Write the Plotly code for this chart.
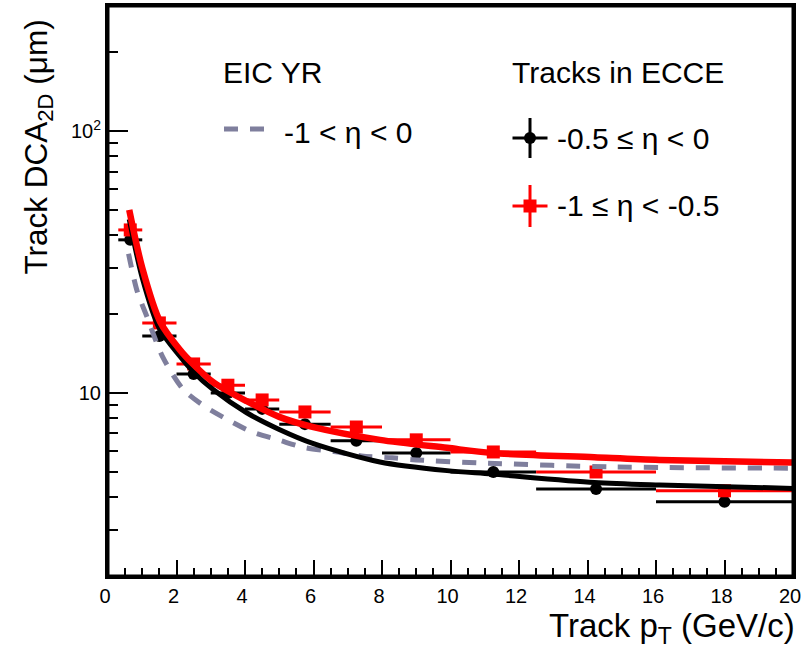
import plotly.graph_objects as go

# ---------------- data ----------------
# ECCE track bins (pT, GeV/c)
bin_lo = [0.3, 1.0, 2.0, 3.0, 4.0, 5.0, 6.5, 8.0, 10.0, 12.5, 16.0]
bin_hi = [1.0, 2.0, 3.0, 4.0, 5.0, 6.5, 8.0, 10.0, 12.5, 16.0, 20.0]
# -0.5 <= eta < 0 (black)
dca_black = [38.4, 16.5, 11.8, 10.0, 8.69, 7.6, 6.56, 5.9, 4.99, 4.30, 3.84]
# -1 <= eta < -0.5 (red)
dca_red = [41.9, 18.5, 12.9, 10.7, 9.4, 8.46, 7.41, 6.62, 5.95, 4.99, 4.23]

# fit curves
fit_black_pt = [0.62, 1.0, 1.5, 2.1, 2.5, 3.07, 4.05, 5.0, 6.0, 7.94, 9.9, 11.2, 14.2, 16.1, 20.0]
fit_black_y = [46.0, 27.5, 17.6, 13.8, 12.0, 10.3, 8.4, 7.25, 6.4, 5.45, 5.05, 4.9, 4.55, 4.45, 4.32]
fit_red_pt = [0.62, 1.0, 1.52, 2.1, 2.48, 3.07, 4.05, 5.0, 6.0, 7.94, 9.9, 11.2, 14.2, 16.1, 20.0]
fit_red_y = [50.0, 30.0, 18.7, 14.6, 12.9, 11.0, 9.3, 8.1, 7.4, 6.62, 6.17, 5.9, 5.68, 5.55, 5.42]

# EIC Yellow Report requirement, -1 < eta < 0
yr_pt = [0.6, 0.85, 1.14, 1.6, 2.2, 2.85, 3.45, 4.2, 5.0, 5.7, 6.6, 7.4, 8.3, 9.0, 10.8, 14.7, 20.0]
yr_y = [34.0, 24.5, 19.5, 13.7, 10.3, 8.84, 7.96, 7.1, 6.6, 6.2, 5.97, 5.75, 5.65, 5.55, 5.41, 5.22, 5.16]

x_ticks = [0, 2, 4, 6, 8, 10, 12, 14, 16, 18, 20]
y_ticks = [10, 100]
y_tick_text = ["10", "10<sup>2</sup>"]
y_minor = [2, 3, 4, 5, 6, 7, 8, 9, 20, 30, 40, 50, 60, 70, 80, 90, 200, 300]

# ---------------- layout geometry ----------------
W, H = 804, 654
L, R, T, B = 108, 793, 6, 576
FONT = "Liberation Sans, Arial, Helvetica, sans-serif"
GRAY = "#7f7f9d"


def px(x):
    return (x - L) / (R - L)


def py(y):
    return (B - y) / (B - T)


x_c = [(a + b) / 2 for a, b in zip(bin_lo, bin_hi)]
x_e = [(b - a) / 2 for a, b in zip(bin_lo, bin_hi)]

fig = go.Figure()

fig.add_trace(go.Scatter(
    x=x_c, y=dca_black, mode="markers",
    marker=dict(symbol="circle", size=12, color="black"),
    error_x=dict(type="data", array=x_e, width=0, thickness=3, color="black"),
    showlegend=False))
fig.add_trace(go.Scatter(
    x=x_c, y=dca_red, mode="markers",
    marker=dict(symbol="square", size=13, color="#ff0000"),
    error_x=dict(type="data", array=x_e, width=0, thickness=3, color="#ff0000"),
    showlegend=False))
fig.add_trace(go.Scatter(
    x=yr_pt, y=yr_y, mode="lines",
    line=dict(color=GRAY, width=5, dash="14px,12px", shape="spline", smoothing=0.8),
    showlegend=False))
fig.add_trace(go.Scatter(
    x=fit_black_pt, y=fit_black_y, mode="lines",
    line=dict(color="black", width=5, shape="spline", smoothing=0.8),
    showlegend=False))
fig.add_trace(go.Scatter(
    x=fit_red_pt, y=fit_red_y, mode="lines",
    line=dict(color="#ff0000", width=6.5, shape="spline", smoothing=0.8),
    showlegend=False))

# legend symbols on an overlay axis in pixel units
fig.add_trace(go.Scatter(
    x=[530], y=[138], xaxis="x2", yaxis="y2", mode="markers",
    marker=dict(symbol="circle", size=12, color="black"),
    error_x=dict(type="data", array=[17.5], width=0, thickness=3, color="black"),
    error_y=dict(type="data", array=[20], width=0, thickness=3, color="black"),
    showlegend=False))
fig.add_trace(go.Scatter(
    x=[530], y=[206], xaxis="x2", yaxis="y2", mode="markers",
    marker=dict(symbol="square", size=13, color="#ff0000"),
    error_x=dict(type="data", array=[17.5], width=0, thickness=3, color="#ff0000"),
    error_y=dict(type="data", array=[21], width=0, thickness=3, color="#ff0000"),
    showlegend=False))
fig.add_trace(go.Scatter(
    x=[224, 266], y=[129, 129], xaxis="x2", yaxis="y2", mode="lines",
    line=dict(color=GRAY, width=5, dash="14px,12px"),
    showlegend=False))

ann = []


def text(x, y, s, size=30, anchor="left"):
    ann.append(dict(x=px(x), y=py(y), xref="paper", yref="paper", text=s,
                    showarrow=False, xanchor=anchor, yanchor="middle",
                    font=dict(family=FONT, size=size, color="black")))


text(221, 72, "EIC YR")
text(282, 132, "-1 &lt; η &lt; 0")
text(510, 72, "Tracks in ECCE")
text(555, 138, "-0.5 ≤ η &lt; 0")
text(555, 205, "-1 ≤ η &lt; -0.5")

ann.append(dict(x=px(797), y=py(628), xref="paper", yref="paper",
                text="Track p<sub>T</sub> (GeV/c)", showarrow=False,
                xanchor="right", yanchor="middle",
                font=dict(family=FONT, size=33, color="black")))
ann.append(dict(x=px(38), y=py(18), xref="paper", yref="paper",
                text="Track DCA<sub>2D</sub> (μm)", showarrow=False, textangle=-90,
                xanchor="center", yanchor="top",
                font=dict(family=FONT, size=31.5, color="black")))

fig.update_layout(
    width=W, height=H, autosize=False,
    margin=dict(l=L, r=W - R, t=T, b=H - B, autoexpand=False),
    paper_bgcolor="white", plot_bgcolor="white",
    showlegend=False,
    annotations=ann,
    shapes=[dict(type="rect", xref="paper", yref="paper", x0=0, x1=1, y0=0, y1=1,
                 line=dict(color="black", width=3), layer="above")],
    xaxis=dict(range=[0, 20], tickvals=x_ticks, ticks="inside", ticklen=16, tickwidth=2,
               tickcolor="black", showline=True, linewidth=3, linecolor="black",
               mirror=True, showgrid=False, zeroline=False, automargin=False,
               ticklabelshift=-3,
               tickfont=dict(family=FONT, size=20, color="black"),
               minor=dict(dtick=0.5, ticks="inside", ticklen=8, tickwidth=2,
                          tickcolor="black", showgrid=False)),
    yaxis=dict(type="log", range=[0.30103, 2.4771], tickvals=y_ticks, ticktext=y_tick_text,
               ticks="inside", ticklen=20, tickwidth=2, tickcolor="black",
               showline=True, linewidth=3, linecolor="black", mirror=True,
               showgrid=False, zeroline=False, automargin=False,
               tickfont=dict(family=FONT, size=20, color="black"),
               minor=dict(tickvals=y_minor, ticks="inside", ticklen=10, tickwidth=2,
                          tickcolor="black", showgrid=False)),
    xaxis2=dict(range=[L, R], overlaying="x", visible=False, fixedrange=True),
    yaxis2=dict(range=[B, T], overlaying="y", visible=False, fixedrange=True),
)

fig.write_html("out.html", config={"displayModeBar": False},
               post_script="document.body.style.margin='0';document.body.style.padding='0';"
                           "document.body.style.overflow='hidden';")
